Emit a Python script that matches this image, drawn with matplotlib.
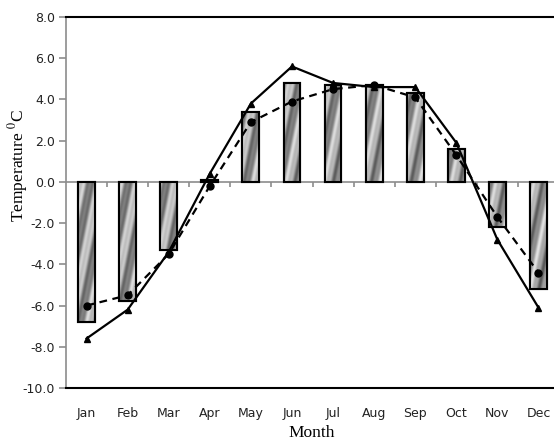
import numpy as np
import matplotlib
matplotlib.use("Agg")
import matplotlib.pyplot as plt

months = ["Jan", "Feb", "Mar", "Apr", "May", "Jun",
          "Jul", "Aug", "Sep", "Oct", "Nov", "Dec"]

# bar series (monthly mean temperature)
bar_values = [-6.8, -5.8, -3.3, 0.1, 3.4, 4.8, 4.7, 4.7, 4.3, 1.6, -2.2, -5.2]
# solid line with triangles
line_tri = [-7.6, -6.2, -3.4, 0.4, 3.8, 5.6, 4.8, 4.6, 4.6, 1.9, -2.8, -6.1]
# dashed line with circles
line_dot = [-6.0, -5.5, -3.5, -0.2, 2.9, 3.9, 4.5, 4.7, 4.1, 1.3, -1.7, -4.4]

y_ticks = np.arange(-10, 8.1, 2)

W, H = 554, 440
fig = plt.figure(figsize=(W / 100, H / 100), dpi=100)
# plot area runs off the right edge of the picture, as in the reference
ax = fig.add_axes([66 / W, 1 - 388 / H, 493 / W, 371 / H])

x = np.arange(len(months))
ax.set_xlim(-0.5, 11.5)
ax.set_ylim(-10, 8)

bars = ax.bar(x, bar_values, width=0.41, facecolor="#b0b0b0",
              edgecolor="black", linewidth=1.5, zorder=2)

# streaky grey texture inside each bar
px_x, px_y = 41.1, 20.6  # pixels per data unit
for i, b in enumerate(bars):
    x0, y0 = b.get_x(), b.get_y()
    w, h = b.get_width(), b.get_height()
    nx, ny = 40, 200
    gx = np.linspace(0, w * px_x, nx)
    gy = np.linspace(0, abs(h) * px_y, ny)
    GX, GY = np.meshgrid(gx, gy)
    u = GX + 0.2 * GY + 3 * i
    tex = 0.62 + 0.2 * np.sin(2 * np.pi * u / 17.0) + 0.08 * np.sin(2 * np.pi * u / 6.0 + 1.0)
    im = ax.imshow(tex, cmap="gray", vmin=0, vmax=1, origin="upper",
                   extent=[x0, x0 + w, min(y0, y0 + h), max(y0, y0 + h)],
                   aspect="auto", interpolation="bilinear", zorder=2.1)
    im.set_clip_path(b)
    outline = plt.Rectangle((x0, y0), w, h, fill=False, edgecolor="black",
                            linewidth=1.5, zorder=2.2)
    ax.add_patch(outline)

ax.plot(x, line_tri, color="black", linewidth=1.6, marker="^",
        markersize=5, zorder=4)
ax.plot(x, line_dot, color="black", linewidth=1.6, linestyle=(0, (3.5, 2.5)),
        marker="o", markersize=5, zorder=4)

# zero line with category separators
ax.axhline(0, color="#8c8c8c", linewidth=1.2, zorder=1.5)
ax.vlines(x[:-1] + 0.5, -0.24, 0, color="#8c8c8c", linewidth=1.2, zorder=1.5)

# spines
ax.spines["left"].set_color("#8c8c8c")
ax.spines["left"].set_linewidth(1.2)
ax.spines["top"].set_color("black")
ax.spines["top"].set_linewidth(1.5)
ax.spines["bottom"].set_color("black")
ax.spines["bottom"].set_linewidth(1.5)
ax.spines["right"].set_visible(False)

ax.set_yticks(y_ticks)
ax.set_yticklabels([f"{v:.1f}" for v in y_ticks], fontsize=9, family="DejaVu Sans",
                   color="#222222")
ax.tick_params(axis="y", direction="out", length=5, width=1.2, color="#8c8c8c", pad=3)
ax.set_xticks(x)
ax.set_xticklabels(months, fontsize=9, family="DejaVu Sans", color="#222222")
ax.tick_params(axis="x", length=0, pad=14)

plt.rcParams["mathtext.fontset"] = "stix"
fig.text(18 / W, 1 - 166 / H, r"Temperature $^{0}$C", rotation=90,
         ha="center", va="center", fontsize=12.5, family="Liberation Serif")
fig.text(312 / W, 1 - 433 / H, "Month", ha="center", va="center",
         fontsize=12.5, family="Liberation Serif")

fig.savefig("out.png", dpi=100)
